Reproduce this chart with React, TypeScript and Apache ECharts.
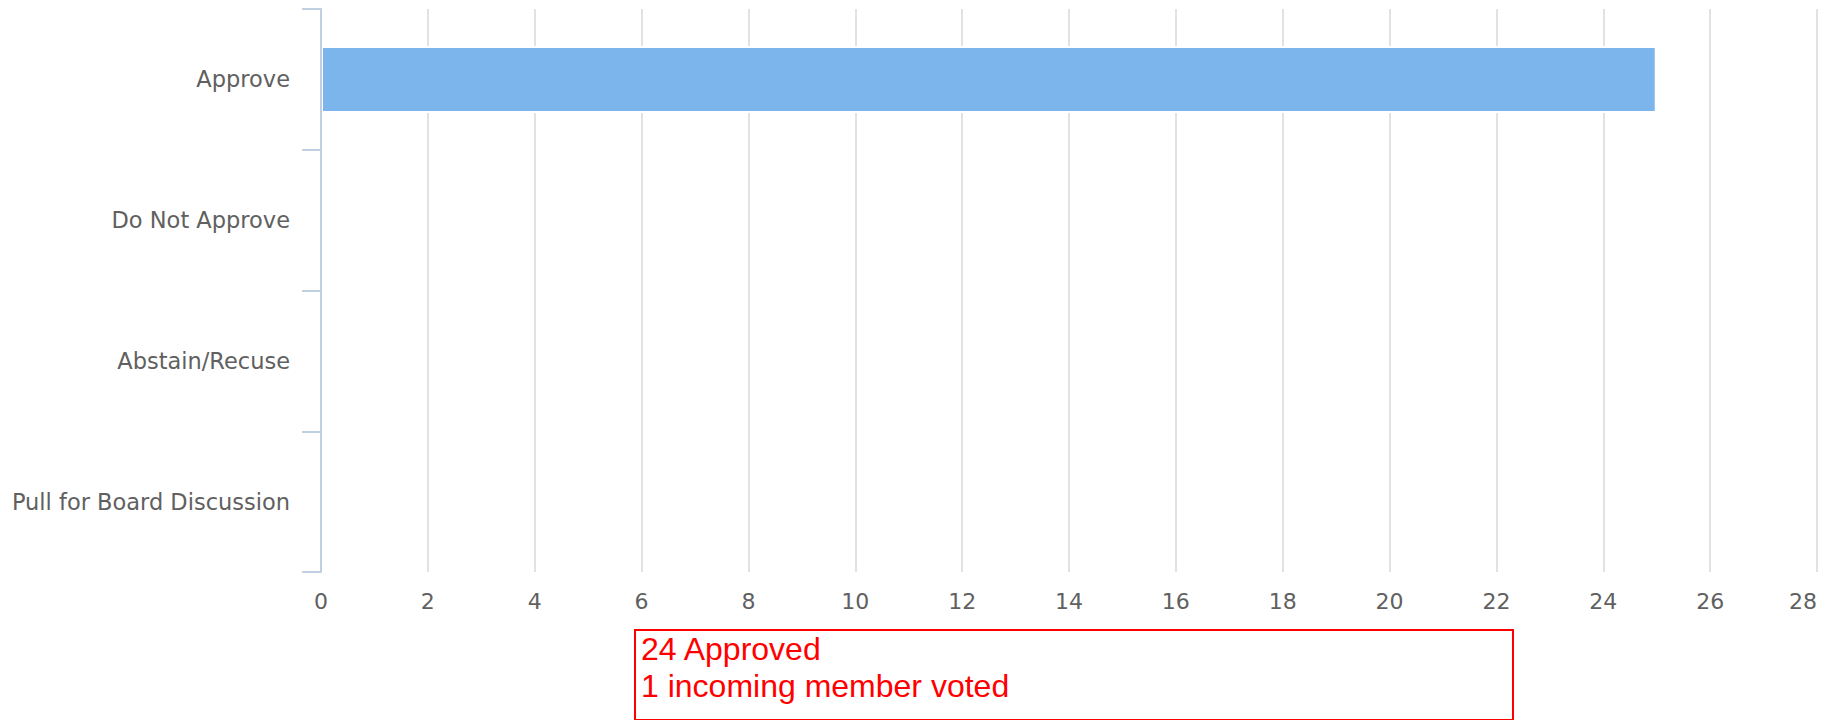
import React, { useEffect, useRef } from "react";
import * as echarts from "echarts";

const categories = ["Approve", "Do Not Approve", "Abstain/Recuse", "Pull for Board Discussion"];
const votes = [25, 0, 0, 0];
const noteLines = ["24 Approved", "1 incoming member voted"];

export default function App() {
  const ref = useRef<HTMLDivElement>(null);
  useEffect(() => {
    const chart = echarts.init(ref.current!, undefined, { renderer: "svg" });
    const labelFont = "'DejaVu Sans', Verdana, sans-serif";
    chart.setOption({
      animation: false,
      grid: { left: 321, right: 12, top: 9, bottom: 148, containLabel: false },
      xAxis: {
        type: "value",
        min: 0,
        max: 28,
        interval: 2,
        axisLine: { show: false },
        axisTick: { show: false },
        splitLine: { show: true, lineStyle: { color: "#d8d8d8", width: 1.5 } },
        axisLabel: {
          color: "#606060",
          fontSize: 22,
          fontFamily: labelFont,
          margin: 18,
          alignMaxLabel: "right",
        },
      },
      yAxis: {
        type: "category",
        data: categories,
        inverse: true,
        z: 3,
        axisLine: { show: true, lineStyle: { color: "#c0d0e0", width: 2 } },
        axisTick: { show: true, length: 19, lineStyle: { color: "#c0d0e0", width: 2 } },
        splitLine: { show: false },
        axisLabel: { color: "#606060", fontSize: 22.5, fontFamily: labelFont, margin: 31 },
      },
      series: [
        {
          type: "bar",
          barWidth: 67,
          data: votes.map((v) => (v === 0 ? { value: v, itemStyle: { borderWidth: 0 } } : v)),
          itemStyle: { color: "#7cb5ec", borderColor: "#ffffff", borderWidth: 2 },
        },
      ],
      graphic: [
        {
          type: "rect",
          shape: { x: 635, y: 630, width: 878, height: 90 },
          style: { fill: "none", stroke: "#ff0000", lineWidth: 2 },
          z: 10,
        },
        {
          type: "text",
          x: 641,
          y: 649,
          style: {
            text: noteLines[0],
            fill: "#ff0000",
            font: "32px 'Liberation Sans', Arial, sans-serif",
            verticalAlign: "middle",
          },
          z: 10,
        },
        {
          type: "text",
          x: 641,
          y: 686,
          style: {
            text: noteLines[1],
            fill: "#ff0000",
            font: "32px 'Liberation Sans', Arial, sans-serif",
            verticalAlign: "middle",
          },
          z: 10,
        },
      ],
    });
    return () => chart.dispose();
  }, []);
  return (
    <div
      ref={ref}
      style={{ position: "fixed", left: 0, top: 0, width: 1829, height: 720, background: "#fff" }}
    />
  );
}
